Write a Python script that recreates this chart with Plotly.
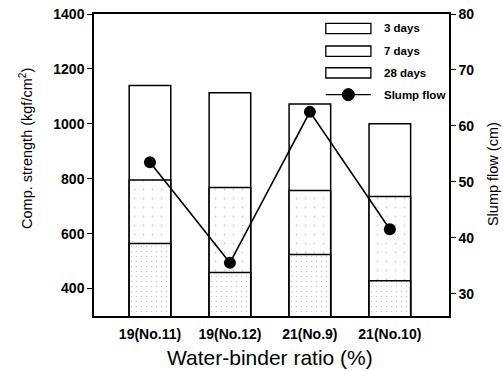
import plotly.graph_objects as go

# Compressive strength by curing age and slump flow for each mix
categories = ["19(No.11)", "19(No.12)", "21(No.9)", "21(No.10)"]
strength_3d = [564, 458, 524, 428]
strength_7d = [795, 768, 757, 735]
strength_28d = [1140, 1113, 1072, 1000]
slump_flow = [53.5, 35.5, 62.5, 41.5]
left_ticks = [400, 600, 800, 1000, 1200, 1400]
right_ticks = [30, 40, 50, 60, 70, 80]

xpos = list(range(len(categories)))
FONT = "Liberation Sans"

fig = go.Figure()

def add_bars(values, name, solidity, size, dot_color):
    pattern = dict(shape="." if solidity > 0 else "", fgcolor=dot_color,
                   bgcolor="white", size=size, solidity=solidity)
    fig.add_trace(go.Bar(
        x=xpos, y=values, name=name, width=0.52,
        marker=dict(color="white", line=dict(color="black", width=1.5),
                    pattern=pattern),
        showlegend=False,
    ))

# Overlaid bars: the tallest (28 days) sits behind the earlier ages
add_bars(strength_28d, "28 days", 0, 8, "#888888")
add_bars(strength_7d, "7 days", 0.03, 9, "#999999")
add_bars(strength_3d, "3 days", 0.06, 5, "#888888")

fig.add_trace(go.Scatter(
    x=xpos, y=slump_flow, yaxis="y2", name="Slump flow",
    mode="lines+markers",
    line=dict(color="black", width=1.6),
    marker=dict(color="black", size=12, symbol="circle"),
    showlegend=False,
))

# Hand-drawn legend in the upper right of the plot area
legend_rows = [0.952, 0.877, 0.805, 0.733]
labels = ["3 days", "7 days", "28 days", "Slump flow"]
sx0, sx1 = 0.653, 0.780
shapes = []
annotations = []
for i, (yy, lab) in enumerate(zip(legend_rows, labels)):
    if i < 3:
        shapes.append(dict(type="rect", xref="paper", yref="paper",
                           x0=sx0, x1=sx1, y0=yy - 0.017, y1=yy + 0.017,
                           line=dict(color="black", width=1.3), fillcolor="white"))
    else:
        shapes.append(dict(type="line", xref="paper", yref="paper",
                           x0=sx0, x1=sx1, y0=yy, y1=yy,
                           line=dict(color="black", width=1.3)))
        shapes.append(dict(type="circle", xref="paper", yref="paper",
                           x0=(sx0 + sx1) / 2 - 0.017, x1=(sx0 + sx1) / 2 + 0.017,
                           y0=yy - 0.02, y1=yy + 0.02,
                           line=dict(color="black", width=1), fillcolor="black"))
    annotations.append(dict(x=0.812, y=yy, xref="paper", yref="paper",
                            text=f"<b>{lab}</b>", showarrow=False,
                            xanchor="left", yanchor="middle",
                            font=dict(family=FONT, size=11.5, color="black")))

# Axis titles placed as annotations so the plot area keeps fixed margins
annotations += [
    dict(x=-0.192, y=0.556, xref="paper", yref="paper", textangle=-90,
         text="Comp. strength (kgf/cm<sup>2</sup>)", showarrow=False,
         xanchor="center", yanchor="middle", font=dict(family=FONT, size=14.5)),
    dict(x=1.124, y=0.47, xref="paper", yref="paper", textangle=-90,
         text="Slump flow (cm)", showarrow=False,
         xanchor="center", yanchor="middle", font=dict(family=FONT, size=14.5)),
    dict(x=0.496, y=-0.136, xref="paper", yref="paper",
         text="Water-binder ratio (%)", showarrow=False,
         xanchor="center", yanchor="middle", font=dict(family=FONT, size=21)),
]

fig.update_layout(
    width=503, height=371,
    margin=dict(l=94, r=54, t=14, b=55),
    plot_bgcolor="white", paper_bgcolor="white",
    barmode="overlay",
    font=dict(family=FONT, color="black"),
    shapes=shapes, annotations=annotations,
    xaxis=dict(
        range=[-0.7, 3.74], tickvals=xpos,
        ticktext=[f"<b>{c}</b>" for c in categories],
        tickfont=dict(size=14), ticks="outside", ticklen=4, tickcolor="white",
        showline=True, linecolor="black", linewidth=2, mirror=True,
        showgrid=False, zeroline=False, automargin=False,
    ),
    yaxis=dict(
        range=[300, 1400], tickvals=left_ticks,
        ticktext=[f"<b>{v}</b>" for v in left_ticks],
        tickfont=dict(size=14), ticks="outside", ticklen=5, tickcolor="black",
        showline=True, linecolor="black", linewidth=1.5,
        showgrid=False, zeroline=False, automargin=False,
    ),
    yaxis2=dict(
        range=[26, 80], overlaying="y", side="right",
        tickvals=right_ticks,
        ticktext=[f"<b>{v}</b>" for v in right_ticks],
        tickfont=dict(size=14), ticks="outside", ticklen=5, tickcolor="black",
        showline=True, linecolor="black", linewidth=1.5,
        showgrid=False, zeroline=False, automargin=False,
    ),
)

fig.write_html("out.html")
